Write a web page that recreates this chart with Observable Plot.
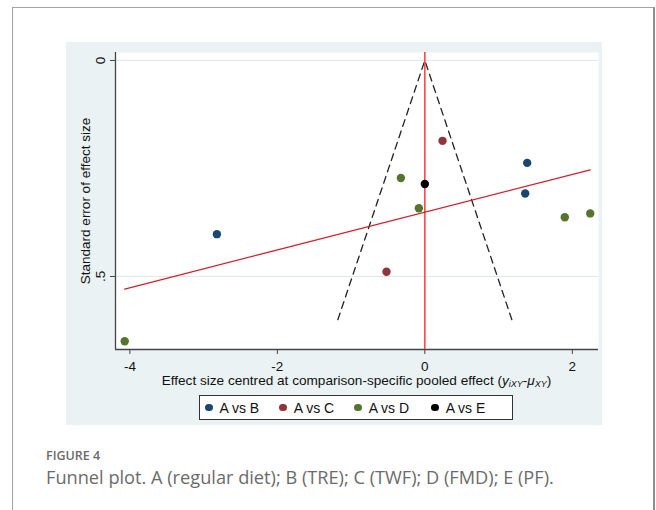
<!DOCTYPE html>
<html>
<head>
<meta charset="utf-8">
<script src="https://cdn.jsdelivr.net/npm/d3@7"></script>
<script src="https://cdn.jsdelivr.net/npm/@observablehq/plot@0.6"></script>
<style>
  html, body { margin: 0; padding: 0; background: #fff; }
  body { width: 656px; height: 510px; position: relative; overflow: hidden; font-family: "Liberation Sans", Arial, sans-serif; }
  #outer { position: absolute; left: 12px; top: 7px; width: 643px; height: 520px; border: 1.5px solid #a3a3a3; border-right-width: 2px; border-right-color: #8f8f8f; box-sizing: border-box; }
  #graph { position: absolute; left: 66px; top: 42px; width: 536px; height: 383px; background: #eaf2f3; }
  #chart { position: absolute; left: 0; top: 0; }
  #xtitle { position: absolute; left: 49px; width: 483px; top: 331px; text-align: center; font-size: 13.6px; color: #111; white-space: nowrap; }
  #xtitle sub { font-size: 9px; vertical-align: -2px; }
  #legend { position: absolute; left: 133px; top: 353px; width: 314px; height: 25px; box-sizing: border-box; border: 1px solid #333; background: #fff; display: flex; align-items: center; padding-left: 5px; font-size: 14px; color: #111; white-space: nowrap; }
  .item { display: flex; align-items: center; flex-shrink: 0; white-space: nowrap; }
  .dot { width: 7.5px; height: 7.5px; border-radius: 50%; margin-right: 7px; flex-shrink: 0; }
  #fig { position: absolute; left: 46px; top: 447px; font-family: "Open Sans", sans-serif; font-size: 12.5px; font-weight: 600; color: #6b6b6b; }
  #cap { position: absolute; left: 46px; top: 465px; font-family: "Open Sans", sans-serif; font-size: 18.2px; color: #6b6b6b; white-space: nowrap; }
</style>
</head>
<body>
<div id="outer"></div>
<div id="graph">
  <div id="chart"></div>
  <div id="xtitle">Effect size centred at comparison-specific pooled effect (<i>y</i><sub><i>iXY</i></sub>-<i>μ</i><sub><i>XY</i></sub>)</div>
  <div id="legend"></div>
</div>
<div id="fig">FIGURE 4</div>
<div id="cap">Funnel plot. A (regular diet); B (TRE); C (TWF); D (FMD); E (PF).</div>
<script>
// ---- data ----
const groups = ["A vs B", "A vs C", "A vs D", "A vs E"];
const groupColors = ["#1a476f", "#90353b", "#55752f", "#000000"];

const pointGroup = ["A vs B", "A vs B", "A vs B", "A vs C", "A vs C", "A vs D", "A vs D", "A vs D", "A vs D", "A vs D", "A vs E"];
const effect     = [-2.82, 1.388, 1.361, 0.24, -0.52, -0.325, -0.081, 1.898, 2.243, -4.07, 0.0];
const stdErr     = [0.402, 0.237, 0.308, 0.186, 0.489, 0.272, 0.342, 0.363, 0.354, 0.650, 0.286];

const funnelX  = [-1.18, 0, 1.18];
const funnelSE = [0.60, 0, 0.60];

const regX  = [-4.07, 2.243];
const regSE = [0.529, 0.253];

const xTicks = [-4, -2, 0, 2];
const xTickLabels = ["-4", "-2", "0", "2"];
const yTicks = [0, 0.5];
const yTickLabels = ["0", ".5"];
const yTitle = "Standard error of effect size";

// legend layout: gap after each label (px)
const legendGaps = [20, 20, 22, 0];

// ---- tables ----
const points = effect.map((x, i) => ({x, se: stdErr[i], g: pointGroup[i]}));
const funnel = funnelX.map((x, i) => ({x, se: funnelSE[i]}));
const reg = regX.map((x, i) => ({x, se: regSE[i]}));

const xDomain = [-4.195, 2.355];
const yDomain = [-0.0185, 0.669];

const chart = Plot.plot({
  width: 536,
  height: 348,
  marginLeft: 49,
  marginRight: 4,
  marginTop: 10,
  marginBottom: 41,
  style: {fontFamily: "'Liberation Sans', Arial, sans-serif", fontSize: "13.5px", color: "#111", background: "transparent"},
  x: {domain: xDomain},
  y: {domain: yDomain, reverse: true},
  color: {domain: groups, range: groupColors},
  marks: [
    Plot.frame({fill: "#fff", stroke: "none"}),
    Plot.ruleY(yTicks, {stroke: "#dde9ee", strokeWidth: 1}),
    Plot.axisX({ticks: xTicks, tickSize: 5, tickPadding: 7, tickFormat: d => xTickLabels[xTicks.indexOf(d)], stroke: "#444", label: null}),
    Plot.axisY({ticks: yTicks, tickSize: 5, tickRotate: -90, tickPadding: 6, tickFormat: d => yTickLabels[yTicks.indexOf(d)], stroke: "#444", label: null}),
    Plot.text([yTitle], {frameAnchor: "left", textAnchor: "middle", dx: -30, rotate: -90, fill: "#111"}),
    Plot.ruleX([xDomain[0]], {stroke: "#444", strokeWidth: 1.3}),
    Plot.ruleY([yDomain[1]], {stroke: "#444", strokeWidth: 1.3}),
    Plot.line(funnel, {x: "x", y: "se", stroke: "#222", strokeWidth: 1.3, strokeDasharray: "7,5"}),
    Plot.ruleX([0], {stroke: "#ff3b3b", strokeWidth: 1.5}),
    Plot.line(reg, {x: "x", y: "se", stroke: "#d0202c", strokeWidth: 1.3}),
    Plot.dot(points, {x: "x", y: "se", fill: "g", r: 4.2, stroke: "none"})
  ]
});
document.getElementById("chart").appendChild(chart);

const legend = document.getElementById("legend");
groups.forEach((g, i) => {
  const item = document.createElement("div");
  item.className = "item";
  item.style.marginRight = legendGaps[i] + "px";
  const dot = document.createElement("span");
  dot.className = "dot";
  dot.style.background = groupColors[i];
  const label = document.createElement("span");
  label.textContent = g;
  item.appendChild(dot);
  item.appendChild(label);
  legend.appendChild(item);
});
</script>
</body>
</html>
